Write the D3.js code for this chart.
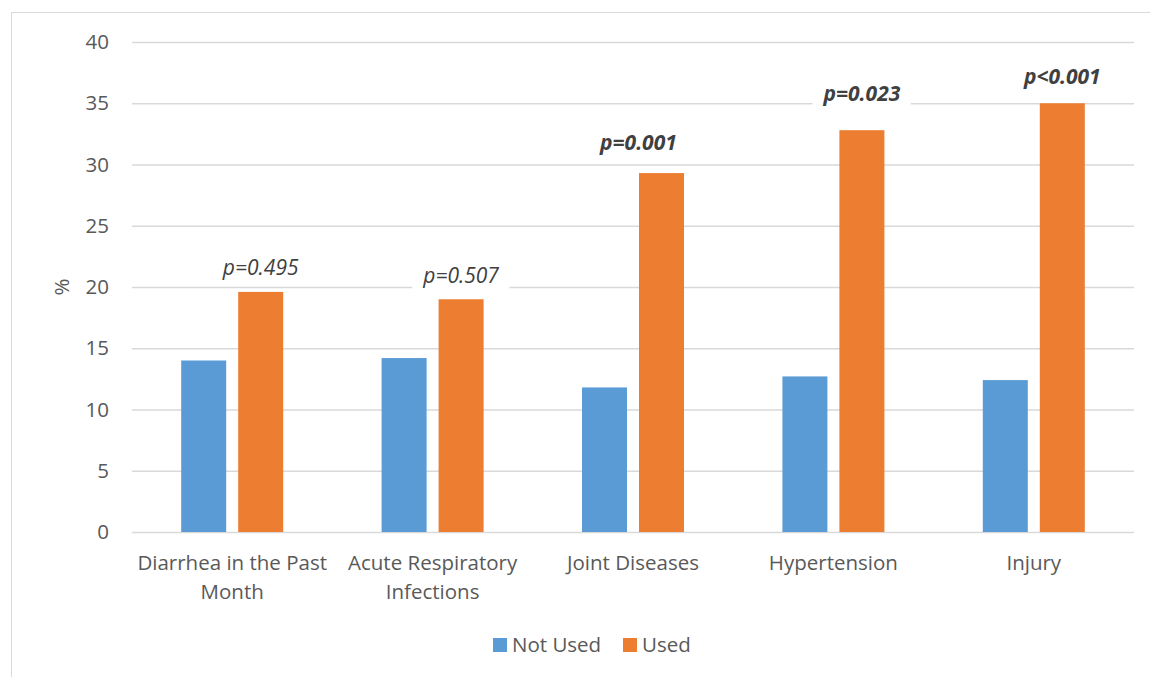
<!DOCTYPE html>
<html><head><meta charset="utf-8">
<script src="https://cdn.jsdelivr.net/npm/d3@7"></script>
<style>body{margin:0;background:#fff}svg{display:block}</style>
</head><body>
<script>
const categories = [["Diarrhea in the Past","Month"],["Acute Respiratory","Infections"],["Joint Diseases"],["Hypertension"],["Injury"]];
const seriesNames = ["Not Used","Used"];
const notUsed = [14.0, 14.2, 11.8, 12.7, 12.4];
const used = [19.6, 19.0, 29.3, 32.8, 35.0];
const pLabels = ["p=0.495","p=0.507","p=0.001","p=0.023","p<0.001"];
const pBold = [false,false,true,true,true];
const pLabelAt = [21.55, 20.9, 31.8, 35.75, 37.15];
const pLabelShift = [0, 0, -0.115, 0, 0]; // fraction of category width
const yTicks = [0,5,10,15,20,25,30,35,40];
const colors = ["#5B9BD5","#ED7D31"];

const W=1150,H=677;
const svg=d3.select("body").append("svg").attr("width",W).attr("height",H);
const font="Open Sans, sans-serif";
const fs=20.5;
svg.append("rect").attr("x",11.5).attr("y",12.5).attr("width",1200).attr("height",700).attr("fill","#fff").attr("stroke","#d9d9d9");

const x0=d3.scaleBand().domain(d3.range(5)).range([132,1134]);
const y=d3.scaleLinear().domain([0,40]).range([532,42]);
const barW=45, gap=12;

const g=svg.append("g");
g.selectAll("line.grid").data(yTicks).join("line").attr("class","grid")
 .attr("x1",132).attr("x2",1134).attr("y1",d=>y(d)+0.5).attr("y2",d=>y(d)+0.5)
 .attr("stroke","#d9d9d9").attr("stroke-width",1.3);

g.selectAll("text.yt").data(yTicks).join("text").attr("class","yt")
 .attr("x",109).attr("y",d=>y(d)).attr("dy","0.35em").attr("text-anchor","end")
 .attr("font-family",font).attr("font-size",fs).attr("fill","#595959").text(d=>d);

svg.append("text").attr("transform","translate(69,287) rotate(-90)").attr("text-anchor","middle")
 .attr("font-family",font).attr("font-size",fs).attr("fill","#595959").text("%");

const series=[notUsed,used];
series.forEach((vals,si)=>{
  g.selectAll("rect.s"+si).data(vals).join("rect").attr("class","s"+si)
   .attr("x",(d,i)=>x0(i)+x0.bandwidth()/2 + (si===0? -gap/2-barW : gap/2))
   .attr("width",barW).attr("y",d=>y(d)).attr("height",d=>y(0)-y(d)).attr("fill",colors[si]);
});

// p labels
const bgLayer=svg.append("g");
const lblLayer=svg.append("g");
pLabels.forEach((t,i)=>{
  const cx=x0(i)+x0.bandwidth()/2+gap/2+barW/2+pLabelShift[i]*x0.bandwidth();
  const cy=y(pLabelAt[i]);
  const txt=lblLayer.append("text").attr("x",cx).attr("y",cy).attr("dy","0.35em").attr("text-anchor","middle")
   .attr("font-family",font).attr("font-size",21).attr("font-style","italic")
   .attr("font-weight",pBold[i]?"bold":"normal").attr("fill","#404040").text(t);
  const bb=txt.node().getBBox();
  bgLayer.append("rect").attr("x",bb.x-10).attr("y",bb.y-4).attr("width",bb.width+20).attr("height",bb.height+8).attr("fill","#fff");
});

// category labels
categories.forEach((lines,i)=>{
  const cx=x0(i)+x0.bandwidth()/2;
  const t=svg.append("text").attr("text-anchor","middle").attr("font-family",font).attr("font-size",fs).attr("fill","#595959");
  lines.forEach((l,k)=>t.append("tspan").attr("x",cx).attr("y",563+k*29).attr("dy","0.35em").text(l));
});

// legend
const leg=[{n:seriesNames[0],x:493,c:colors[0]},{n:seriesNames[1],x:623,c:colors[1]}];
leg.forEach(l=>{
  svg.append("rect").attr("x",l.x).attr("y",638).attr("width",14).attr("height",14).attr("fill",l.c);
  svg.append("text").attr("x",l.x+19).attr("y",645).attr("dy","0.35em").attr("font-family",font).attr("font-size",fs).attr("fill","#595959").text(l.n);
});
</script>
</body></html>
